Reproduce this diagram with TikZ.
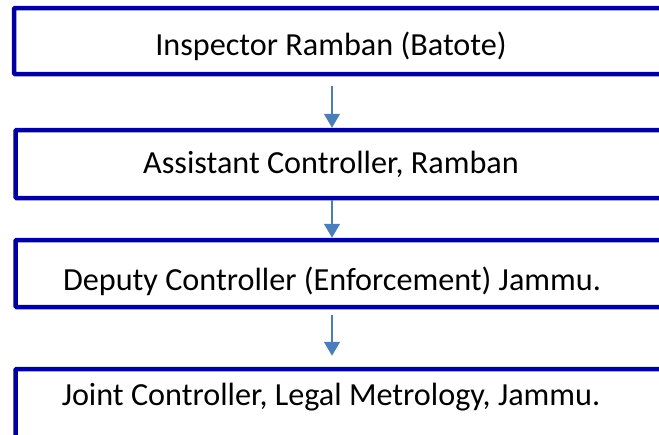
\documentclass[tikz,border=0pt]{standalone}
\usepackage{fontspec}
\setmainfont{Carlito}
\usetikzlibrary{positioning}
\usetikzlibrary{arrows.meta}
\definecolor{boxblue}{RGB}{0,0,160}
\definecolor{flowblue}{RGB}{74,126,187}
\tikzset{
    stagebox/.style = {rectangle, draw=boxblue, line width=4.5pt, minimum width=686pt, rounded corners=1pt, inner sep=0pt},
    stagetext/.style = {anchor=base, inner sep=0pt, font=\fontsize{32.2}{38}\selectfont},
    flow/.style = {-{Triangle[width=16pt,length=14pt]}, line width=1.6pt, flowblue}
}
\begin{document}
\begin{tikzpicture}[x=1pt,y=-1pt]
  \useasboundingbox (0,0) rectangle (659,434);
  \clip (0,0) rectangle (659,434);

  \node[stagebox, minimum height=66pt] (b1) at (357,41) {};
  \node[stagebox, minimum height=68pt] (b2) at (358.5,164) {};
  \node[stagebox, minimum height=67pt] (b3) at (358.5,273.5) {};
  \node[stagebox, minimum height=140pt] (b4) at (358.5,439) {};

  \node[stagetext] (t1) at (331,55) {Inspector Ramban (Batote)};
  \node[stagetext] (t2) at (331,173) {Assistant Controller, Ramban};
  \node[stagetext] (t3) at (332,290) {Deputy Controller (Enforcement) Jammu.};
  \node[stagetext] (t4) at (331,405) {Joint Controller, Legal Metrology, Jammu.};

  \draw[flow, shorten <=10pt] (b1.south -| 332,0) -- (b2.north -| 332,0);
  \draw[flow] (b2.south -| 332,0) -- (b3.north -| 332,0);
  \draw[flow, shorten <=6pt, shorten >=11pt] (b3.south -| 332,0) -- (b4.north -| 332,0);
\end{tikzpicture}
\end{document}
